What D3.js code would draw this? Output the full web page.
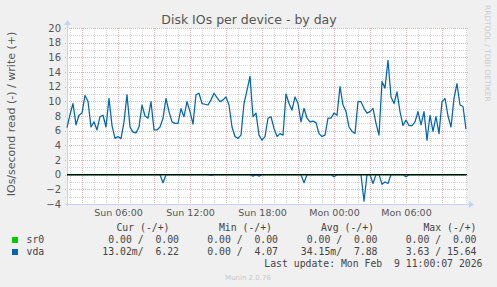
<!DOCTYPE html>
<html>
<head>
<meta charset="utf-8">
<script src="https://cdn.jsdelivr.net/npm/d3@7"></script>
<style>
  body { margin: 0; background: #f0f0f0; }
  svg { display: block; }
</style>
</head>
<body>
<div id="chart"></div>
<script>
// 15 minute samples from Sun 01:45 to Mon 11:00
let vdaWrite = [
  6.4, 8.2, 9.7, 6.8, 8.1, 8.4, 10.8, 10.0, 6.5, 7.2, 6.1, 7.9, 8.1, 6.5, 10.4, 6.7,
  4.95, 5.2, 4.9, 7.2, 10.9, 6.5, 5.8, 5.7, 6.5, 9.5, 8.0, 7.7, 9.95, 6.1, 6.1, 6.5,
  7.7, 10.4, 8.6, 7.2, 7.0, 7.0, 9.0, 7.9, 9.95, 8.6, 6.9, 10.9, 11.1, 9.7, 9.6, 9.5,
  10.2, 11.1, 10.5, 9.95, 10.2, 10.6, 9.5, 6.5, 5.2, 4.95, 5.4, 9.7, 11.5, 13.4, 7.9, 8.4,
  5.4, 4.7, 5.2, 7.7, 7.9, 6.3, 5.2, 5.6, 5.4, 11.0, 9.7, 8.8, 10.6, 9.7, 7.2, 9.05,
  7.7, 7.2, 7.3, 7.1, 5.6, 5.2, 5.4, 7.7, 7.7, 8.4, 8.1, 12.0, 9.5, 8.6, 6.5, 5.9,
  5.6, 9.95, 9.95, 9.05, 8.4, 8.6, 9.05, 7.0, 5.4, 12.7, 11.8, 15.6, 10.6, 9.7, 11.3, 8.6,
  6.7, 7.45, 6.7, 6.7, 7.2, 8.6, 6.8, 8.6, 4.7, 8.1, 5.9, 7.9, 5.6, 9.95, 10.4, 8.0,
  6.5, 10.4, 12.4, 9.5, 9.3, 6.22
];
let vdaRead = [
  0, 0, 0, 0, 0, 0, 0, 0, 0, 0, 0, 0, 0, 0, 0, 0,
  0, 0, 0, 0, 0, 0, 0, 0, 0, 0, 0, 0, 0, 0, 0, 0,
  1.1, 0, 0, 0, 0, 0, 0, 0, 0, 0, 0, 0, 0, 0, 0, 0,
  0.1, 0, 0, 0, 0, 0, 0, 0, 0, 0, 0, 0, 0, 0, 0.2, 0,
  0.2, 0, 0, 0, 0, 0, 0, 0, 0, 0, 0, 0, 0, 0, 0, 1.1,
  0, 0, 0, 0, 0, 0, 0, 0, 0, 0.3, 0, 0, 0, 0, 0, 0,
  0, 0, 0, 3.63, 0, 0, 1.2, 0, 0, 1.3, 1.0, 1.2, 0, 0, 0, 0,
  0, 0.3, 0, 0, 0, 0, 0, 0, 0, 0, 0, 0, 0, 0, 0, 0,
  0, 0, 0, 0, 0, 0
];
let sr0Write = [
  0, 0, 0, 0, 0, 0, 0, 0, 0, 0, 0, 0, 0, 0, 0, 0, 0, 0, 0, 0, 0, 0, 0, 0, 0, 0, 0, 0, 0, 0, 0, 0, 0, 0,
  0, 0, 0, 0, 0, 0, 0, 0, 0, 0, 0, 0, 0, 0, 0, 0, 0, 0, 0, 0, 0, 0, 0, 0, 0, 0, 0, 0, 0, 0, 0, 0, 0, 0,
  0, 0, 0, 0, 0, 0, 0, 0, 0, 0, 0, 0, 0, 0, 0, 0, 0, 0, 0, 0, 0, 0, 0, 0, 0, 0, 0, 0, 0, 0, 0, 0, 0, 0,
  0, 0, 0, 0, 0, 0, 0, 0, 0, 0, 0, 0, 0, 0, 0, 0, 0, 0, 0, 0, 0, 0, 0, 0, 0, 0, 0, 0, 0, 0, 0, 0
];
let sr0Read = sr0Write;

let yTicks = [-4, -2, 0, 2, 4, 6, 8, 10, 12, 14, 16, 18, 20];

// legend table
let legendNames = ["sr0", "vda"];
let legendColors = ["#00cc00", "#0066b3"];
let legendCur = ["0.00 /  0.00", "13.02m/  6.22"];
let legendMin = ["0.00 /  0.00", "0.00 /  4.07"];
let legendAvg = ["0.00 /  0.00", "34.15m/  7.88"];
let legendMax = ["0.00 /  0.00", "3.63 / 15.64"];
let legendHeaders = ["Cur (-/+)", "Min (-/+)", "Avg (-/+)", "Max (-/+)"];

class diskChart {
    constructor(parentElement) {
        this.parentElement = parentElement;
        this.startTime = new Date(2026, 1, 8, 1, 45);
        this.endTime = new Date(2026, 1, 9, 11, 5);
        this.step = 15 * 60 * 1000;
        this.initVis();
    }

    initVis() {
        let vis = this;

        vis.plot = {left: 67, right: 467, top: 28, bottom: 204};

        vis.svg = d3.select("#" + vis.parentElement).append("svg")
            .attr("width", 497)
            .attr("height", 287)
            .style("font-family", "'DejaVu Sans', sans-serif");

        vis.svg.append("rect")
            .attr("width", 497).attr("height", 287)
            .attr("fill", "#f0f0f0");

        vis.svg.append("rect")
            .attr("x", vis.plot.left).attr("y", vis.plot.top)
            .attr("width", vis.plot.right - vis.plot.left)
            .attr("height", vis.plot.bottom - vis.plot.top)
            .attr("fill", "#ffffff");

        vis.x = d3.scaleTime()
            .domain([vis.startTime, vis.endTime])
            .range([vis.plot.left, vis.plot.right]);

        vis.y = d3.scaleLinear()
            .domain([-4, 20])
            .range([vis.plot.bottom, vis.plot.top]);

        vis.drawGrid();
        vis.drawAxes();
        vis.wrangleData();
    }

    drawGrid() {
        let vis = this;
        let grid = vis.svg.append("g").attr("class", "grid");

        // minor lines first, major on top
        let minorY = vis.y.ticks(24).filter(d => d % 2 !== 0);
        let minorX = d3.timeHour.every(1).range(vis.startTime, vis.endTime)
            .filter(d => d.getHours() % 3 !== 0);
        let majorX = d3.timeHour.every(3).range(vis.startTime, vis.endTime);

        grid.selectAll(".minor-y").data(minorY).enter().append("line")
            .attr("x1", vis.plot.left - 2).attr("x2", vis.plot.right + 2)
            .attr("y1", d => Math.round(vis.y(d)) + 0.5).attr("y2", d => Math.round(vis.y(d)) + 0.5)
            .attr("stroke", "#d6d6d6").attr("stroke-dasharray", "1,1");

        grid.selectAll(".minor-x").data(minorX).enter().append("line")
            .attr("x1", d => Math.round(vis.x(d)) + 0.5).attr("x2", d => Math.round(vis.x(d)) + 0.5)
            .attr("y1", vis.plot.top).attr("y2", vis.plot.bottom + 2)
            .attr("stroke", "#d6d6d6").attr("stroke-dasharray", "1,1");

        grid.selectAll(".major-y").data(yTicks).enter().append("line")
            .attr("x1", vis.plot.left - 2).attr("x2", vis.plot.right + 2)
            .attr("y1", d => Math.round(vis.y(d)) + 0.5).attr("y2", d => Math.round(vis.y(d)) + 0.5)
            .attr("stroke", "#e8acac").attr("stroke-dasharray", "1,1");

        grid.selectAll(".major-x").data(majorX).enter().append("line")
            .attr("x1", d => Math.round(vis.x(d)) + 0.5).attr("x2", d => Math.round(vis.x(d)) + 0.5)
            .attr("y1", vis.plot.top).attr("y2", vis.plot.bottom + 2)
            .attr("stroke", "#e8acac").attr("stroke-dasharray", "1,1");
    }

    drawAxes() {
        let vis = this;

        vis.yAxis = d3.axisLeft(vis.y).tickValues(yTicks).tickSize(0).tickPadding(6);
        vis.xAxis = d3.axisBottom(vis.x)
            .ticks(d3.timeHour.every(6))
            .tickFormat(d3.timeFormat("%a %H:%M"))
            .tickSize(0).tickPadding(5);

        let ya = vis.svg.append("g")
            .attr("class", "y-axis axis")
            .attr("transform", "translate(" + vis.plot.left + ",0)")
            .call(vis.yAxis);
        ya.select(".domain").remove();
        ya.selectAll("text").attr("fill", "#555").style("font-size", "10px")
            .style("font-family", "'DejaVu Sans', sans-serif");

        let xa = vis.svg.append("g")
            .attr("class", "x-axis axis")
            .attr("transform", "translate(0," + vis.plot.bottom + ")")
            .call(vis.xAxis);
        xa.select(".domain").remove();
        xa.selectAll("text").attr("fill", "#555").style("font-size", "9.5px")
            .style("font-family", "'DejaVu Sans', sans-serif");

        // axis lines with arrows
        let axisColor = "#c8d0f4";
        vis.svg.append("line")
            .attr("x1", vis.plot.left - 2).attr("x2", vis.plot.right + 3)
            .attr("y1", vis.plot.bottom + 0.5).attr("y2", vis.plot.bottom + 0.5)
            .attr("stroke", axisColor);
        vis.svg.append("line")
            .attr("x1", vis.plot.left + 0.5).attr("x2", vis.plot.left + 0.5)
            .attr("y1", vis.plot.bottom + 2).attr("y2", vis.plot.top - 4)
            .attr("stroke", axisColor);
        vis.svg.append("path")
            .attr("d", "M" + (vis.plot.right + 7) + "," + (vis.plot.bottom + 0.5) +
                " l-5,-3.5 l0,7 z")
            .attr("fill", axisColor);
        vis.svg.append("path")
            .attr("d", "M" + (vis.plot.left + 0.5) + "," + (vis.plot.top - 8) +
                " l-3.5,5 l7,0 z")
            .attr("fill", axisColor);
    }

    wrangleData() {
        let vis = this;
        let toPoints = (arr, sign) => arr.map((v, i) => ({
            date: new Date(vis.startTime.getTime() + i * vis.step),
            value: sign * v
        }));

        vis.displayData = [
            {key: "sr0-read", color: legendColors[0], values: toPoints(sr0Read, -1)},
            {key: "sr0-write", color: legendColors[0], values: toPoints(sr0Write, 1)},
            {key: "vda-read", color: legendColors[1], values: toPoints(vdaRead, -1)},
            {key: "vda-write", color: legendColors[1], values: toPoints(vdaWrite, 1)}
        ];

        vis.updateVis();
    }

    updateVis() {
        let vis = this;

        vis.line = d3.line()
            .x(d => vis.x(d.date))
            .y(d => vis.y(d.value));

        vis.svg.append("g").selectAll("path")
            .data(vis.displayData)
            .enter().append("path")
            .attr("d", d => vis.line(d.values))
            .attr("fill", "none")
            .attr("stroke", d => d.color)
            .attr("stroke-width", 1.25)
            .attr("stroke-linejoin", "round");

        // zero rule, drawn on top of the flat series
        vis.svg.append("line")
            .attr("x1", vis.plot.left).attr("x2", vis.plot.right)
            .attr("y1", vis.y(0)).attr("y2", vis.y(0))
            .attr("stroke", "#000").attr("stroke-width", 1.4);

        vis.drawText();
    }

    drawText() {
        let vis = this;

        vis.svg.append("text")
            .attr("x", 249).attr("y", 24)
            .attr("text-anchor", "middle")
            .attr("fill", "#555")
            .style("font-size", "12.5px")
            .text("Disk IOs per device - by day");

        vis.svg.append("text")
            .attr("transform", "translate(15,114) rotate(-90)")
            .attr("text-anchor", "middle")
            .attr("fill", "#555")
            .style("font-size", "11px")
            .text("IOs/second read (-) / write (+)");

        vis.svg.append("text")
            .attr("transform", "translate(485,5) rotate(90)")
            .attr("fill", "#cccccc")
            .style("font-size", "7.5px")
            .text("RRDTOOL / TOBI OETIKER");

        // legend
        let mono = "'DejaVu Sans Mono', monospace";
        let colRight = [169.5, 272, 374, 476.5];
        let valRight = [179, 278, 377.5, 476.5];
        let leg = vis.svg.append("g")
            .style("font-family", mono)
            .style("font-size", "9.8px")
            .attr("fill", "#444");

        leg.selectAll(".hdr").data(legendHeaders).enter().append("text")
            .attr("x", (d, i) => colRight[i]).attr("y", 230.5)
            .attr("text-anchor", "end")
            .text(d => d);

        legendNames.forEach((name, r) => {
            let yy = 243 + r * 12;
            leg.append("rect")
                .attr("x", 12).attr("y", yy - 6)
                .attr("width", 6).attr("height", 6)
                .attr("fill", legendColors[r]);
            leg.append("text").attr("x", 26.5).attr("y", yy).text(name);
            [legendCur, legendMin, legendAvg, legendMax].forEach((col, c) => {
                leg.append("text")
                    .attr("x", valRight[c]).attr("y", yy)
                    .attr("text-anchor", "end")
                    .style("white-space", "pre")
                    .text(col[r]);
            });
        });

        leg.append("text")
            .attr("x", 482.5).attr("y", 267)
            .attr("text-anchor", "end")
            .style("white-space", "pre")
            .text("Last update: Mon Feb  9 11:00:07 2026");

        vis.svg.append("text")
            .attr("x", 248).attr("y", 279.5)
            .attr("text-anchor", "middle")
            .attr("fill", "#c8c8c8")
            .style("font-size", "7px")
            .text("Munin 2.0.76");
    }
}

new diskChart("chart");
</script>
</body>
</html>
